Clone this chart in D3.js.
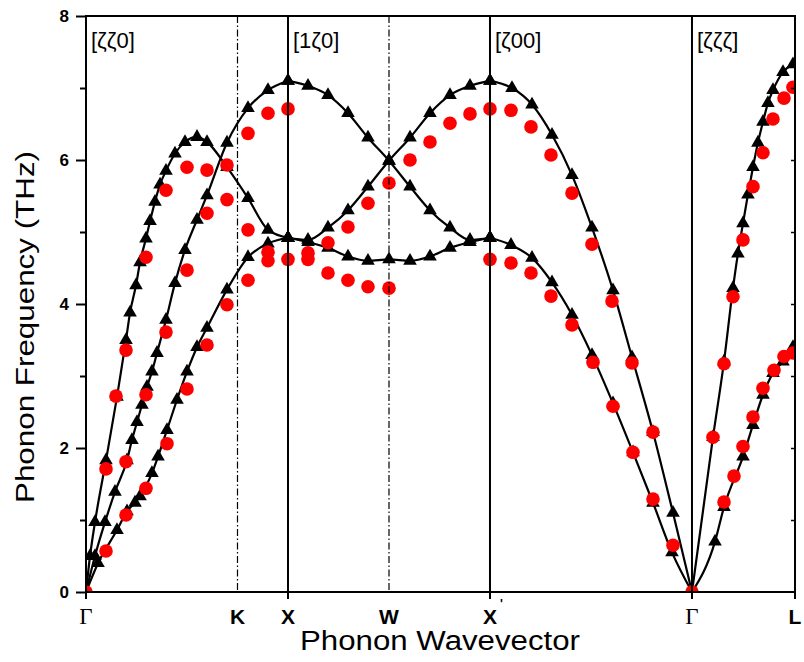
<!DOCTYPE html>
<html>
<head>
<meta charset="utf-8">
<script src="https://cdn.jsdelivr.net/npm/d3@7"></script>
<style>
  html, body { margin: 0; padding: 0; background: #fff; }
  svg { display: block; }
</style>
</head>
<body>
<svg id="chart" width="804" height="662"></svg>
<script>
// ---------- DATA ----------
// x = position along the path (Γ=0, K=1.5, X=2, W=3, X'=4, Γ=6, L=7.02), y = frequency (THz)
const tickPositions = [0, 1.5, 2, 3, 4, 6, 7.02];
const tickLabels = ["Γ", "K", "X", "W", "X", "Γ", "L"];
const dirPositions = [0, 2, 4, 6];
const dirLabels = ["[ζζ0]", "[1ζ0]", "[ζ00]", "[ζζζ]"];
const yTicks = [0, 2, 4, 6, 8];
const yMinor = [1, 3, 5, 7];

// Calculated branches (black lines with triangles)
const calcGK1 = [[0,0],[0.04,0.5],[0.089,0.97],[0.198,1.83],[0.307,2.71],[0.396,3.5],[0.436,3.88],[0.495,4.26],[0.535,4.58],[0.594,4.91],[0.634,5.15],[0.683,5.42],[0.733,5.66],[0.792,5.85],[0.881,6.09],[0.98,6.25],[1.099,6.32],[1.198,6.25],[1.396,5.9],[1.604,5.47],[1.802,5.03],[2.0,4.92]];
const calcGK2 = [[0,0],[0.089,0.5],[0.188,0.97],[0.287,1.39],[0.406,1.83],[0.455,2.11],[0.505,2.36],[0.554,2.6],[0.604,2.85],[0.653,3.06],[0.703,3.32],[0.792,3.78],[0.881,4.29],[0.98,4.75],[1.099,5.17],[1.198,5.51],[1.396,6.24],[1.604,6.72],[1.802,6.97],[2.0,7.1]];
const calcGK3 = [[0,0],[0.119,0.4],[0.307,0.86],[0.406,1.12],[0.485,1.24],[0.535,1.33],[0.653,1.65],[0.713,1.88],[0.802,2.25],[0.901,2.67],[1.0,3.06],[1.099,3.4],[1.198,3.67],[1.396,4.2],[1.604,4.65],[1.802,4.84],[2.0,4.92]];
const calcXW1 = [[2,7.1],[2.198,7.03],[2.396,6.9],[2.594,6.65],[2.792,6.31],[3,5.99],[3.208,5.63],[3.406,5.3],[3.604,5.06],[3.802,4.89],[4,4.92]];
const calcXW2 = [[2,4.92],[2.198,4.89],[2.396,5.06],[2.594,5.3],[2.792,5.63],[3,5.99],[3.208,6.31],[3.406,6.65],[3.604,6.9],[3.802,7.03],[4,7.1]];
const calcXW3 = [[2,4.92],[2.198,4.86],[2.396,4.78],[2.594,4.66],[2.792,4.6],[3,4.62],[3.208,4.6],[3.406,4.66],[3.604,4.78],[3.802,4.86],[4,4.92]];
const calcXG1 = [[4,7.1],[4.218,7.0],[4.416,6.77],[4.614,6.35],[4.812,5.79],[5.01,5.06],[5.218,4.19],[5.406,3.26],[5.614,2.22],[5.812,1.1],[6,0]];
const calcXG2 = [[4,4.92],[4.208,4.82],[4.416,4.64],[4.614,4.3],[4.812,3.85],[5.01,3.29],[5.218,2.62],[5.416,1.94],[5.614,1.24],[5.802,0.55],[6,0]];
const calcGL1 = [[6,0],[6.208,2.15],[6.317,3.2],[6.406,4.22],[6.455,4.7],[6.505,5.12],[6.554,5.52],[6.604,5.9],[6.653,6.24],[6.703,6.53],[6.752,6.79],[6.802,6.97],[6.901,7.22],[7.0,7.33]];
const calcGL2 = [[6,0],[6.228,0.7],[6.317,1.18],[6.505,1.88],[6.604,2.32],[6.703,2.74],[6.802,3.04],[6.901,3.2],[7.0,3.4]];

// Experimental points (red circles)
const expGK = [[0,0],[0.198,1.71],[0.297,2.72],[0.396,3.36],[0.594,4.65],[0.792,5.58],[1.0,5.9],[1.198,5.86],[1.396,5.45],[1.604,5.03],[1.802,4.72],
  [0.396,1.81],[0.594,2.74],[0.792,3.61],[1.0,4.47],[1.198,5.26],[1.396,5.93],[1.604,6.37],[1.802,6.65],[2.0,6.71],
  [0.198,0.57],[0.396,1.07],[0.594,1.44],[0.802,2.06],[1.0,2.82],[1.198,3.43],[1.396,3.99],[1.604,4.33],[1.802,4.6],[2.0,4.62]];
const expXW = [[2.198,4.71],[2.198,4.62],[2.396,4.85],[2.396,4.43],[2.594,5.07],[2.594,4.33],[2.792,5.4],[2.792,4.24],[3.0,5.68],[3.0,4.22],
  [3.208,6.0],[3.406,6.25],[3.604,6.51],[3.802,6.64],[4.0,6.71],[4.0,4.62]];
const expXG = [[4.208,6.69],[4.406,6.46],[4.604,6.07],[4.812,5.54],[5.01,4.83],[5.208,4.04],[5.406,3.18],[5.614,2.22],
  [4.208,4.57],[4.406,4.43],[4.604,4.11],[4.812,3.71],[5.02,3.19],[5.218,2.58],[5.416,1.94],[5.614,1.29],[5.812,0.65],[6,0]];
const expGL = [[6.208,2.15],[6.317,3.17],[6.406,4.1],[6.505,4.89],[6.604,5.63],[6.703,6.1],[6.802,6.57],[6.911,6.86],[7.0,7.01],
  [6.317,1.25],[6.416,1.61],[6.505,2.02],[6.604,2.43],[6.703,2.83],[6.812,3.08],[6.911,3.27],[7.0,3.32]];

const calcBranches = [calcGK1, calcGK2, calcGK3, calcXW1, calcXW2, calcXW3, calcXG1, calcXG2, calcGL1, calcGL2];
const expSets = [expGK, expXW, expXG, expGL];

// ---------- LAYOUT ----------
const svg = d3.select("#chart");
const pLeft = 86, pRight = 795, pTop = 16, pBottom = 592;
const x = d3.scaleLinear().domain([0, 7.02]).range([pLeft, pRight]);
const y = d3.scaleLinear().domain([0, 8]).range([pBottom, pTop]);

svg.append("defs").append("clipPath").attr("id", "plotclip")
  .append("rect").attr("x", pLeft).attr("y", pTop).attr("width", pRight - pLeft + 1).attr("height", pBottom - pTop);

const plot = svg.append("g").attr("clip-path", "url(#plotclip)");

// lines
const line = d3.line().x(d => x(d[0])).y(d => y(d[1])).curve(d3.curveMonotoneX);
plot.selectAll("path.branch").data(calcBranches).join("path")
  .attr("class", "branch")
  .attr("d", line)
  .attr("fill", "none").attr("stroke", "#000").attr("stroke-width", 2.2);

// triangles
const tri = d3.symbol().type(d3.symbolTriangle).size(80);
plot.selectAll("path.tri").data(calcBranches.flat()).join("path")
  .attr("class", "tri")
  .attr("d", tri)
  .attr("transform", d => `translate(${x(d[0])},${y(d[1])})`)
  .attr("fill", "#000");

// red circles
plot.selectAll("circle.exp").data(expSets.flat()).join("circle")
  .attr("class", "exp")
  .attr("cx", d => x(d[0])).attr("cy", d => y(d[1])).attr("r", 6.8)
  .attr("fill", "#ff0000");

// vertical separators (drawn on top)
const solidPos = [2, 4, 6];
const dashPos = [1.5, 3];
svg.selectAll("line.vsolid").data(solidPos).join("line")
  .attr("class", "vsolid")
  .attr("x1", d => x(d)).attr("x2", d => x(d)).attr("y1", pTop).attr("y2", pBottom + 7)
  .attr("stroke", "#000").attr("stroke-width", 2);
svg.selectAll("line.vdash").data(dashPos).join("line")
  .attr("class", "vdash")
  .attr("x1", d => x(d)).attr("x2", d => x(d)).attr("y1", pTop).attr("y2", pBottom)
  .attr("stroke", "#000").attr("stroke-width", 1.2).attr("stroke-dasharray", "7,2.5,1.5,2.5");

// frame
svg.append("rect").attr("x", pLeft).attr("y", pTop).attr("width", pRight - pLeft).attr("height", pBottom - pTop)
  .attr("fill", "none").attr("stroke", "#000").attr("stroke-width", 2);

// Left axis
const yAxis = d3.axisLeft(y).tickValues(yTicks).tickSize(10).tickPadding(7).tickFormat(d3.format("d"));
const gy = svg.append("g").attr("transform", `translate(${pLeft},0)`).call(yAxis);
gy.select(".domain").remove();
gy.selectAll(".tick line").attr("stroke-width", 2);
gy.selectAll(".tick text").attr("font-family", "Liberation Sans, Arial, sans-serif")
  .attr("font-weight", "bold").attr("font-size", 17).attr("fill", "#000");
const yAxisMinor = d3.axisLeft(y).tickValues(yMinor).tickSize(6).tickFormat("");
const gym = svg.append("g").attr("transform", `translate(${pLeft},0)`).call(yAxisMinor);
gym.select(".domain").remove();
gym.selectAll(".tick line").attr("stroke-width", 2);

// Right axis small inward ticks
const yAxisRight = d3.axisLeft(y).tickValues(d3.range(1, 8)).tickSize(4).tickFormat("");
const gyr = svg.append("g").attr("transform", `translate(${pRight},0)`).call(yAxisRight);
gyr.select(".domain").remove();
gyr.selectAll(".tick line").attr("stroke-width", 1.5);

// Bottom axis ticks & labels
const tickIdx = tickPositions.map((p, i) => i);
svg.selectAll("line.xt").data(tickIdx.filter(i => ![1, 3].includes(i))).join("line")
  .attr("class", "xt")
  .attr("x1", i => x(tickPositions[i])).attr("x2", i => x(tickPositions[i]))
  .attr("y1", pBottom).attr("y2", pBottom + 7)
  .attr("stroke", "#000").attr("stroke-width", 2);

svg.selectAll("text.xl").data(tickIdx).join("text")
  .attr("class", "xl")
  .attr("x", i => x(tickPositions[i]))
  .attr("y", 624)
  .attr("text-anchor", "middle")
  .attr("font-family", i => tickLabels[i] === "Γ" ? "Liberation Serif, Times New Roman, serif" : "Liberation Sans, Arial, sans-serif")
  .attr("font-weight", i => tickLabels[i] === "Γ" ? "normal" : "bold")
  .attr("font-size", i => tickLabels[i] === "Γ" ? 23 : 21)
  .attr("fill", "#000")
  .text(i => tickLabels[i]);
// prime on X'
svg.append("text").attr("x", x(4) + 10).attr("y", 608)
  .attr("font-family", "Liberation Sans, Arial, sans-serif").attr("font-size", 12).attr("font-weight", "bold")
  .text("'");

// direction labels
svg.selectAll("text.dir").data(dirPositions.map((p, i) => i)).join("text")
  .attr("class", "dir")
  .attr("x", i => x(dirPositions[i]) + 5).attr("y", 48)
  .attr("font-family", "Liberation Sans, Arial, sans-serif").attr("font-size", 22)
  .attr("fill", "#000")
  .text(i => dirLabels[i]);

// axis titles
svg.append("text").attr("x", 440).attr("y", 650).attr("text-anchor", "middle")
  .attr("font-family", "Liberation Sans, Arial, sans-serif").attr("font-size", 27)
  .attr("textLength", 280).attr("lengthAdjust", "spacingAndGlyphs")
  .text("Phonon Wavevector");
svg.append("text").attr("transform", "translate(34,327) rotate(-90)").attr("text-anchor", "middle")
  .attr("font-family", "Liberation Sans, Arial, sans-serif").attr("font-size", 26)
  .attr("textLength", 352).attr("lengthAdjust", "spacingAndGlyphs")
  .text("Phonon Frequency (THz)");
</script>
</body>
</html>
